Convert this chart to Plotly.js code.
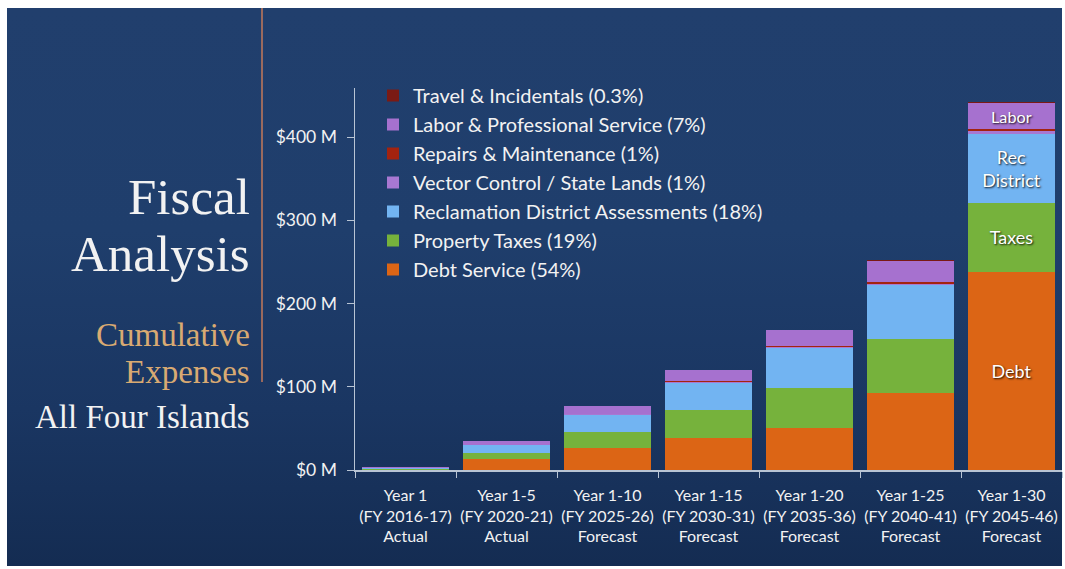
<!DOCTYPE html>
<html>
<head>
<meta charset="utf-8">
<script src="https://cdn.plot.ly/plotly-3.0.1.min.js"></script>
<style>
  html, body { margin: 0; padding: 0; background: #ffffff; }
  #bg { position: absolute; left: 7px; top: 8px; width: 1055px; height: 558px;
        background: linear-gradient(180deg, #213f6d 0%, #1f3e6c 40%, #1a3662 72%, #142c52 100%); }
  #chart { position: absolute; left: 0; top: 0; width: 1065px; height: 569px; }
</style>
</head>
<body>
<div id="bg"></div>
<div id="chart"></div>
<script>
// Categories (x tick labels)
const categories = [
  'Year 1<br>(FY 2016-17)<br>Actual',
  'Year 1-5<br>(FY 2020-21)<br>Actual',
  'Year 1-10<br>(FY 2025-26)<br>Forecast',
  'Year 1-15<br>(FY 2030-31)<br>Forecast',
  'Year 1-20<br>(FY 2035-36)<br>Forecast',
  'Year 1-25<br>(FY 2040-41)<br>Forecast',
  'Year 1-30<br>(FY 2045-46)<br>Forecast'
];

// Cumulative expenses, $ millions
const debtService   = [0,    13.2, 26,  38,   51,  93,  238];
const propertyTaxes = [0.7,  7.6,  20,  34,   48,  65,  83];
const reclamation   = [1.2,  8.9,  20,  32,   47,  64,  83];
const vectorControl = [0.1,  0.3,  0.9, 1.4,  1.6, 2.0, 2.8];
const repairs       = [0.1,  0.3,  0.9, 1.4,  1.6, 2.0, 2.8];
const labor         = [1.2,  4.0,  9,   12.8, 19,  25,  31];
const travel        = [0.05, 0.1,  0.3, 0.4,  0.5, 0.8, 1.3];

// Series names
const seriesNames = [
  'Debt Service (54%)',
  'Property Taxes (19%)',
  'Reclamation District Assessments (18%)',
  'Vector Control / State Lands (1%)',
  'Repairs & Maintenance (1%)',
  'Labor & Professional Service (7%)',
  'Travel & Incidentals (0.3%)'
];

// In-bar labels
const debtText  = ['', '', '', '', '', '', 'Debt'];
const taxesText = ['', '', '', '', '', '', 'Taxes'];
const recText   = ['', '', '', '', '', '', 'Rec<br>District'];
const laborText = ['', '', '', '', '', '', 'Labor'];

// Y tick values / labels
const yTickVals = [0, 100, 200, 300, 400];
const yTickText = ['$0 M', '$100 M', '$200 M', '$300 M', '$400 M'];

const colors = ['#dc6515', '#76b23c', '#72b4f2', '#a878d2', '#a3230f', '#a671cf', '#7a1a14'];
const values = [debtService, propertyTaxes, reclamation, vectorControl, repairs, labor, travel];
const texts  = [debtText, taxesText, recText, null, null, laborText, null];

const traces = values.map((v, i) => {
  const t = {
    type: 'bar',
    x: categories,
    y: v,
    name: seriesNames[i],
    legendrank: 100 - i,
    marker: { color: colors[i], line: { width: 0 } },
    hoverinfo: 'skip'
  };
  if (texts[i]) {
    t.text = texts[i];
    t.textposition = 'inside';
    t.insidetextanchor = 'middle';
    t.textangle = 0;
    t.insidetextfont = { family: 'Lato, sans-serif', size: 18, color: '#ffffff',
                         shadow: '1px 1px 2px rgba(0,0,0,0.9)' };
  }
  return t;
});

// helper: pixel -> paper coords (plot area x 355..1062, y 88..470)
const py = p => (470 - p) / 382;
const px = p => (p - 355) / 707;

const serif = 'Liberation Serif, DejaVu Serif, serif';
// baseline pixel positions; box centre = baseline - 0.3375*size
const titleLines = [
  { text: 'Fiscal', base: 214, size: 51, color: '#f2f2f2' },
  { text: 'Analysis', base: 271, size: 51, color: '#f2f2f2' },
  { text: 'Cumulative', base: 346, size: 33, color: '#d9aa72' },
  { text: 'Expenses', base: 383, size: 33, color: '#d9aa72' },
  { text: 'All Four Islands', base: 428, size: 33, color: '#f2f2f2' }
];
const annotations = titleLines.map(a => ({
  text: a.text, x: px(252), y: py(a.base - 0.3375 * a.size), xref: 'paper', yref: 'paper',
  xanchor: 'right', yanchor: 'middle', showarrow: false, align: 'right',
  font: { family: serif, size: a.size, color: a.color }
}));

const layout = {
  width: 1065, height: 569,
  margin: { l: 355, r: 3, t: 88, b: 99, pad: 0 },
  paper_bgcolor: 'rgba(0,0,0,0)',
  plot_bgcolor: 'rgba(0,0,0,0)',
  barmode: 'stack',
  bargap: 0.13,
  showlegend: true,
  hovermode: false,
  font: { family: 'Lato, sans-serif', color: '#f2f2f2' },
  legend: {
    x: px(373), y: py(76), xanchor: 'left', yanchor: 'top',
    xref: 'paper', yref: 'paper',
    traceorder: 'normal',
    bgcolor: 'rgba(0,0,0,0)',
    font: { family: 'Lato, sans-serif', size: 20, color: '#f2f2f2' }
  },
  xaxis: {
    type: 'category',
    showline: true, linecolor: '#b8c4d4', linewidth: 1.5,
    ticks: 'outside', tickson: 'boundaries', ticklen: 6, tickcolor: '#b8c4d4',
    showgrid: false, zeroline: false, tickangle: 0,
    tickfont: { family: 'Lato, sans-serif', size: 16, color: '#f2f2f2' },
    ticklabelstandoff: 10
  },
  yaxis: {
    range: [0, 459],
    showline: true, linecolor: '#b8c4d4', linewidth: 1.5,
    ticks: 'outside', ticklen: 7, tickcolor: '#b8c4d4',
    tickvals: yTickVals, ticktext: yTickText,
    showgrid: false, zeroline: false,
    tickfont: { family: 'Lato, sans-serif', size: 17.5, color: '#f2f2f2' },
    ticklabelstandoff: 6
  },
  annotations: annotations,
  shapes: [
    { type: 'line', xref: 'paper', yref: 'paper', x0: px(262), x1: px(262),
      y0: py(8), y1: py(382), line: { color: '#c47a5a', width: 1.5 } }
  ]
};

Plotly.newPlot('chart', traces, layout, { staticPlot: true, displayModeBar: false });
</script>
</body>
</html>
